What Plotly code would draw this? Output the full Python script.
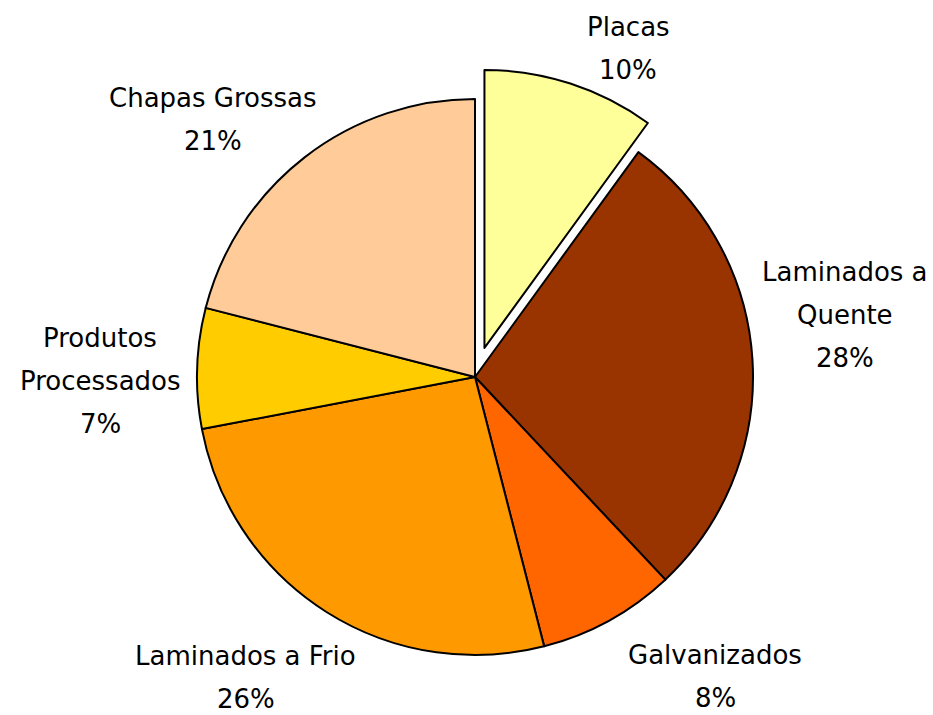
import plotly.graph_objects as go

# data
labels = ['Placas', 'Laminados a Quente', 'Galvanizados', 'Laminados a Frio',
          'Produtos Processados', 'Chapas Grossas']
values = [10, 28, 8, 26, 7, 21]
label_lines = [['Placas'], ['Laminados a', 'Quente'], ['Galvanizados'],
               ['Laminados a Frio'], ['Produtos', 'Processados'], ['Chapas Grossas']]
colors = ['#FFFF99', '#993300', '#FF6600', '#FF9900', '#FFCC00', '#FFCC99']
pulls = [0.11, 0, 0, 0, 0, 0]

W, H = 933, 715
cx, cy, r = 475, 377, 278
half = r * (1 + max(pulls))

# label block anchors in pixels (centre x, centre y of first line)
label_pos = [(628, 27), (845, 272), (715, 655), (246, 656), (100, 338), (213, 98)]
line_gap = 43

fig = go.Figure()
fig.add_trace(go.Pie(
    labels=labels,
    values=values,
    sort=False,
    direction='clockwise',
    rotation=0,
    pull=pulls,
    textinfo='none',
    marker=dict(colors=colors, line=dict(color='black', width=2)),
    domain=dict(x=[(cx - half) / W, (cx + half) / W],
                y=[1 - (cy + half) / H, 1 - (cy - half) / H]),
    showlegend=False,
))

total = sum(values)
annotations = []
for lines, v, (px, py) in zip(label_lines, values, label_pos):
    rows = lines + ['{:.0f}%'.format(100 * v / total)]
    for i, row in enumerate(rows):
        annotations.append(dict(
            text=row, x=px / W, y=1 - (py + i * line_gap) / H,
            xref='paper', yref='paper', xanchor='center', yanchor='middle',
            showarrow=False, font=dict(family='DejaVu Sans', size=26, color='black')))

fig.update_layout(
    width=W, height=H,
    margin=dict(l=0, r=0, t=0, b=0),
    paper_bgcolor='white',
    plot_bgcolor='white',
    annotations=annotations,
)

# drop the default page margin so the figure fills the window
fig.write_html("out.html", config={'displayModeBar': False},
               post_script="document.body.style.margin='0';")
